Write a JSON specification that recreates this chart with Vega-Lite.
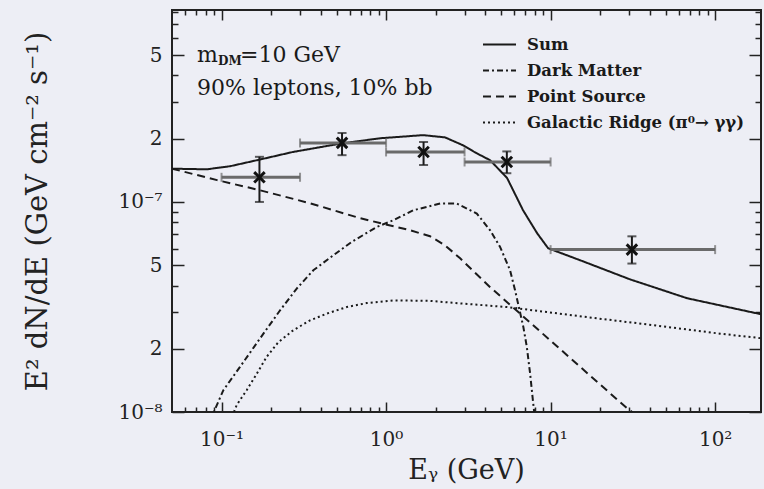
{
  "$schema": "https://vega.github.io/schema/vega-lite/v6.json",
  "width": 589,
  "height": 402,
  "autosize": "none",
  "padding": {"left": 172, "top": 10, "right": 3, "bottom": 77},
  "background": "#edeef5",
  "config": {
    "view": {"stroke": "#222222", "strokeWidth": 2},
    "axis": {
      "domain": false, "grid": false, "tickColor": "#222222", "tickWidth": 1.5,
      "labelFont": "DejaVu Serif", "labelFontSize": 20, "labelColor": "#222222",
      "titleFont": "DejaVu Serif", "titleFontSize": 27, "titleFontWeight": "normal", "titleColor": "#222222"
    }
  },
  "datasets": {
    "curves": [
      {"series": "Sum", "E": 0.05, "F": 1.44e-7},
      {"series": "Sum", "E": 0.0813, "F": 1.43e-7},
      {"series": "Sum", "E": 0.113, "F": 1.48e-7},
      {"series": "Sum", "E": 0.17, "F": 1.59e-7},
      {"series": "Sum", "E": 0.272, "F": 1.73e-7},
      {"series": "Sum", "E": 0.538, "F": 1.90e-7},
      {"series": "Sum", "E": 0.92, "F": 2.01e-7},
      {"series": "Sum", "E": 1.68, "F": 2.08e-7},
      {"series": "Sum", "E": 2.28, "F": 2.03e-7},
      {"series": "Sum", "E": 2.94, "F": 1.86e-7},
      {"series": "Sum", "E": 3.48, "F": 1.72e-7},
      {"series": "Sum", "E": 4.29, "F": 1.58e-7},
      {"series": "Sum", "E": 5.44, "F": 1.30e-7},
      {"series": "Sum", "E": 6.8, "F": 9.13e-8},
      {"series": "Sum", "E": 8.28, "F": 7.10e-8},
      {"series": "Sum", "E": 9.66, "F": 6.02e-8},
      {"series": "Sum", "E": 15.1, "F": 5.28e-8},
      {"series": "Sum", "E": 30.4, "F": 4.28e-8},
      {"series": "Sum", "E": 67.6, "F": 3.48e-8},
      {"series": "Sum", "E": 190, "F": 2.92e-8},
      {"series": "Dark Matter", "E": 0.0851, "F": 9.1e-9},
      {"series": "Dark Matter", "E": 0.1026, "F": 1.27e-8},
      {"series": "Dark Matter", "E": 0.1295, "F": 1.64e-8},
      {"series": "Dark Matter", "E": 0.1714, "F": 2.24e-8},
      {"series": "Dark Matter", "E": 0.227, "F": 3.05e-8},
      {"series": "Dark Matter", "E": 0.2865, "F": 3.87e-8},
      {"series": "Dark Matter", "E": 0.3614, "F": 4.73e-8},
      {"series": "Dark Matter", "E": 0.478, "F": 5.57e-8},
      {"series": "Dark Matter", "E": 0.618, "F": 6.45e-8},
      {"series": "Dark Matter", "E": 0.878, "F": 7.60e-8},
      {"series": "Dark Matter", "E": 1.107, "F": 8.18e-8},
      {"series": "Dark Matter", "E": 1.466, "F": 9.13e-8},
      {"series": "Dark Matter", "E": 2.13, "F": 9.83e-8},
      {"series": "Dark Matter", "E": 2.69, "F": 9.83e-8},
      {"series": "Dark Matter", "E": 3.56, "F": 8.81e-8},
      {"series": "Dark Matter", "E": 4.29, "F": 7.33e-8},
      {"series": "Dark Matter", "E": 4.93, "F": 6.11e-8},
      {"series": "Dark Matter", "E": 5.67, "F": 4.73e-8},
      {"series": "Dark Matter", "E": 6.08, "F": 3.80e-8},
      {"series": "Dark Matter", "E": 6.83, "F": 2.54e-8},
      {"series": "Dark Matter", "E": 7.17, "F": 2.04e-8},
      {"series": "Dark Matter", "E": 7.51, "F": 1.52e-8},
      {"series": "Dark Matter", "E": 7.69, "F": 1.27e-8},
      {"series": "Dark Matter", "E": 7.86, "F": 1.08e-8},
      {"series": "Dark Matter", "E": 8.0, "F": 9.6e-9},
      {"series": "Point Source", "E": 0.05, "F": 1.44e-7},
      {"series": "Point Source", "E": 0.094, "F": 1.27e-7},
      {"series": "Point Source", "E": 0.169, "F": 1.14e-7},
      {"series": "Point Source", "E": 0.345, "F": 9.86e-8},
      {"series": "Point Source", "E": 0.695, "F": 8.37e-8},
      {"series": "Point Source", "E": 1.40, "F": 7.33e-8},
      {"series": "Point Source", "E": 1.85, "F": 6.87e-8},
      {"series": "Point Source", "E": 2.28, "F": 6.22e-8},
      {"series": "Point Source", "E": 2.82, "F": 5.39e-8},
      {"series": "Point Source", "E": 4.29, "F": 3.93e-8},
      {"series": "Point Source", "E": 29.2, "F": 1.04e-8},
      {"series": "Point Source", "E": 40.3, "F": 8.65e-9},
      {"series": "Galactic Ridge (π⁰→ γγ)", "E": 0.116, "F": 9.5e-9},
      {"series": "Galactic Ridge (π⁰→ γγ)", "E": 0.1237, "F": 1.08e-8},
      {"series": "Galactic Ridge (π⁰→ γγ)", "E": 0.1422, "F": 1.27e-8},
      {"series": "Galactic Ridge (π⁰→ γγ)", "E": 0.1637, "F": 1.52e-8},
      {"series": "Galactic Ridge (π⁰→ γγ)", "E": 0.188, "F": 1.83e-8},
      {"series": "Galactic Ridge (π⁰→ γγ)", "E": 0.2215, "F": 2.15e-8},
      {"series": "Galactic Ridge (π⁰→ γγ)", "E": 0.273, "F": 2.45e-8},
      {"series": "Galactic Ridge (π⁰→ γγ)", "E": 0.345, "F": 2.73e-8},
      {"series": "Galactic Ridge (π⁰→ γγ)", "E": 0.436, "F": 2.94e-8},
      {"series": "Galactic Ridge (π⁰→ γγ)", "E": 0.577, "F": 3.16e-8},
      {"series": "Galactic Ridge (π⁰→ γγ)", "E": 0.763, "F": 3.30e-8},
      {"series": "Galactic Ridge (π⁰→ γγ)", "E": 1.107, "F": 3.40e-8},
      {"series": "Galactic Ridge (π⁰→ γγ)", "E": 1.85, "F": 3.38e-8},
      {"series": "Galactic Ridge (π⁰→ γγ)", "E": 2.95, "F": 3.28e-8},
      {"series": "Galactic Ridge (π⁰→ γγ)", "E": 5.42, "F": 3.16e-8},
      {"series": "Galactic Ridge (π⁰→ γγ)", "E": 9.48, "F": 2.99e-8},
      {"series": "Galactic Ridge (π⁰→ γγ)", "E": 16.6, "F": 2.83e-8},
      {"series": "Galactic Ridge (π⁰→ γγ)", "E": 42.2, "F": 2.59e-8},
      {"series": "Galactic Ridge (π⁰→ γγ)", "E": 107, "F": 2.36e-8},
      {"series": "Galactic Ridge (π⁰→ γγ)", "E": 196, "F": 2.24e-8}
    ],
    "points": [
      {"E": 0.17, "Elo": 0.1, "Ehi": 0.3, "F": 1.31e-7, "Flo": 1.0e-7, "Fhi": 1.64e-7},
      {"E": 0.54, "Elo": 0.3, "Ehi": 1.0, "F": 1.91e-7, "Flo": 1.67e-7, "Fhi": 2.13e-7},
      {"E": 1.69, "Elo": 1.0, "Ehi": 3.0, "F": 1.73e-7, "Flo": 1.50e-7, "Fhi": 1.93e-7},
      {"E": 5.42, "Elo": 3.0, "Ehi": 10, "F": 1.55e-7, "Flo": 1.37e-7, "Fhi": 1.74e-7},
      {"E": 31.2, "Elo": 10, "Ehi": 100, "F": 5.93e-8, "Flo": 5.09e-8, "Fhi": 6.86e-8}
    ],
    "notes": [
      {"E": 0.071, "F": 5.0e-7, "label": "m"},
      {"E": 0.071, "F": 5.0e-7, "label": "DM"},
      {"E": 0.071, "F": 5.0e-7, "label": "=10 GeV"},
      {"E": 0.071, "F": 3.48e-7, "label": "90% leptons, 10% bb"}
    ]
  },
  "resolve": {"axis": {"x": "independent", "y": "independent"}},
  "layer": [
    {
      "data": {"name": "curves"},
      "mark": {"type": "line", "clip": true, "color": "#1a1a1a", "strokeWidth": 2},
      "encoding": {
        "x": {"field": "E", "type": "quantitative",
          "scale": {"type": "log", "domain": [0.05, 190], "nice": false},
          "axis": {"orient": "bottom", "values": [0.1, 1, 10, 100], "tickSize": -10, "labelPadding": 27,
            "labelExpr": "datum.value < 0.5 ? '10⁻¹' : datum.value < 5 ? '10⁰' : datum.value < 50 ? '10¹' : '10²'",
            "title": "Eᵧ (GeV)", "titleX": 294, "titleY": 66, "titleBaseline": "alphabetic", "titleAlign": "center"}},
        "y": {"field": "F", "type": "quantitative",
          "scale": {"type": "log", "domain": [1e-8, 8.2e-7], "nice": false},
          "axis": {"orient": "left", "values": [1e-8, 2e-8, 5e-8, 1e-7, 2e-7, 5e-7], "tickSize": -12, "labelPadding": 22,
            "labelExpr": "datum.value < 1.5e-8 ? '10⁻⁸' : datum.value < 9e-8 ? format(datum.value*1e8,'d') : datum.value < 1.5e-7 ? '10⁻⁷' : format(datum.value*1e7,'d')",
            "title": "E² dN/dE (GeV cm⁻² s⁻¹)", "titleFontSize": 29, "titleX": -135, "titleY": 201, "titleAngle": -90, "titleBaseline": "middle", "titleAlign": "center"}},
        "strokeDash": {"field": "series", "type": "nominal",
          "scale": {"domain": ["Sum", "Dark Matter", "Point Source", "Galactic Ridge (π⁰→ γγ)"],
                    "range": [[1, 0], [6, 3, 2, 3], [8, 5], [2, 3]]},
          "legend": {"orient": "none", "legendX": 310, "legendY": 17, "title": null, "padding": 0,
            "symbolType": "stroke", "symbolSize": 1089, "symbolStrokeWidth": 2, "symbolStrokeColor": "#1a1a1a",
            "labelFont": "DejaVu Serif", "labelFontWeight": "bold", "labelFontSize": 16.5, "labelColor": "#1a1a1a",
            "labelLimit": 400, "labelOffset": 10, "rowPadding": -3.8}}
      }
    },
    {
      "data": {"name": "points"},
      "mark": {"type": "rule", "color": "#6a6a6a", "strokeWidth": 3},
      "encoding": {
        "x": {"field": "Elo", "type": "quantitative", "scale": {"type": "log", "domain": [0.05, 190], "nice": false},
          "axis": {"orient": "bottom", "values": [0.06, 0.07, 0.08, 0.09, 0.2, 0.3, 0.4, 0.5, 0.6, 0.7, 0.8, 0.9, 2, 3, 4, 5, 6, 7, 8, 9, 20, 30, 40, 50, 60, 70, 80, 90], "labels": false, "tickSize": -5, "title": null}},
        "x2": {"field": "Ehi"},
        "y": {"field": "F", "type": "quantitative", "scale": {"type": "log", "domain": [1e-8, 8.2e-7], "nice": false},
          "axis": {"orient": "left", "values": [3e-8, 4e-8, 6e-8, 7e-8, 8e-8, 9e-8, 3e-7, 4e-7, 6e-7, 7e-7, 8e-7], "labels": false, "tickSize": -6, "title": null}}
      }
    },
    {
      "data": {"name": "points"},
      "mark": {"type": "rule", "color": "#1a1a1a", "strokeWidth": 2},
      "encoding": {
        "x": {"field": "E", "type": "quantitative", "scale": {"type": "log", "domain": [0.05, 190], "nice": false},
          "axis": {"orient": "top", "values": [0.1, 1, 10, 100], "labels": false, "tickSize": -10, "title": null}},
        "y": {"field": "Flo", "type": "quantitative", "scale": {"type": "log", "domain": [1e-8, 8.2e-7], "nice": false},
          "axis": {"orient": "right", "values": [1e-8, 2e-8, 5e-8, 1e-7, 2e-7, 5e-7], "labels": false, "tickSize": -12, "title": null}},
        "y2": {"field": "Fhi"}
      }
    },
    {
      "data": {"name": "points"},
      "mark": {"type": "tick", "orient": "vertical", "color": "#6a6a6a", "size": 9, "thickness": 2},
      "encoding": {
        "x": {"field": "Elo", "type": "quantitative", "scale": {"type": "log", "domain": [0.05, 190], "nice": false},
          "axis": {"orient": "top", "values": [0.06, 0.07, 0.08, 0.09, 0.2, 0.3, 0.4, 0.5, 0.6, 0.7, 0.8, 0.9, 2, 3, 4, 5, 6, 7, 8, 9, 20, 30, 40, 50, 60, 70, 80, 90], "labels": false, "tickSize": -5, "title": null}},
        "y": {"field": "F", "type": "quantitative", "scale": {"type": "log", "domain": [1e-8, 8.2e-7], "nice": false},
          "axis": {"orient": "right", "values": [3e-8, 4e-8, 6e-8, 7e-8, 8e-8, 9e-8, 3e-7, 4e-7, 6e-7, 7e-7, 8e-7], "labels": false, "tickSize": -6, "title": null}}
      }
    },
    {
      "data": {"name": "points"},
      "mark": {"type": "tick", "orient": "vertical", "color": "#6a6a6a", "size": 9, "thickness": 2},
      "encoding": {
        "x": {"field": "Ehi", "type": "quantitative", "scale": {"type": "log", "domain": [0.05, 190], "nice": false}, "axis": null},
        "y": {"field": "F", "type": "quantitative", "scale": {"type": "log", "domain": [1e-8, 8.2e-7], "nice": false}, "axis": null}
      }
    },
    {
      "data": {"name": "points"},
      "mark": {"type": "tick", "orient": "horizontal", "color": "#1a1a1a", "size": 9, "thickness": 2},
      "encoding": {
        "x": {"field": "E", "type": "quantitative", "scale": {"type": "log", "domain": [0.05, 190], "nice": false}, "axis": null},
        "y": {"field": "Flo", "type": "quantitative", "scale": {"type": "log", "domain": [1e-8, 8.2e-7], "nice": false}, "axis": null}
      }
    },
    {
      "data": {"name": "points"},
      "mark": {"type": "tick", "orient": "horizontal", "color": "#1a1a1a", "size": 9, "thickness": 2},
      "encoding": {
        "x": {"field": "E", "type": "quantitative", "scale": {"type": "log", "domain": [0.05, 190], "nice": false}, "axis": null},
        "y": {"field": "Fhi", "type": "quantitative", "scale": {"type": "log", "domain": [1e-8, 8.2e-7], "nice": false}, "axis": null}
      }
    },
    {
      "data": {"name": "points"},
      "mark": {"type": "point", "shape": "M-1,-1L1,1M1,-1L-1,1", "filled": false, "size": 110, "strokeWidth": 3, "color": "#111111", "opacity": 1},
      "encoding": {
        "x": {"field": "E", "type": "quantitative", "scale": {"type": "log", "domain": [0.05, 190], "nice": false}, "axis": null},
        "y": {"field": "F", "type": "quantitative", "scale": {"type": "log", "domain": [1e-8, 8.2e-7], "nice": false}, "axis": null}
      }
    },
    {
      "data": {"name": "notes"},
      "transform": [{"filter": "datum.label == 'm' || datum.label == '90% leptons, 10% bb'"}],
      "mark": {"type": "text", "align": "left", "baseline": "middle", "font": "DejaVu Serif", "fontSize": 22, "color": "#1a1a1a"},
      "encoding": {
        "x": {"field": "E", "type": "quantitative", "scale": {"type": "log", "domain": [0.05, 190], "nice": false}, "axis": null},
        "y": {"field": "F", "type": "quantitative", "scale": {"type": "log", "domain": [1e-8, 8.2e-7], "nice": false}, "axis": null},
        "text": {"field": "label"}
      }
    },
    {
      "data": {"name": "notes"},
      "transform": [{"filter": "datum.label == 'DM'"}],
      "mark": {"type": "text", "align": "left", "baseline": "middle", "font": "DejaVu Serif", "fontSize": 12, "fontWeight": "bold", "color": "#1a1a1a", "dx": 21, "dy": 6},
      "encoding": {
        "x": {"field": "E", "type": "quantitative", "scale": {"type": "log", "domain": [0.05, 190], "nice": false}, "axis": null},
        "y": {"field": "F", "type": "quantitative", "scale": {"type": "log", "domain": [1e-8, 8.2e-7], "nice": false}, "axis": null},
        "text": {"field": "label"}
      }
    },
    {
      "data": {"name": "notes"},
      "transform": [{"filter": "datum.label == '=10 GeV'"}],
      "mark": {"type": "text", "align": "left", "baseline": "middle", "font": "DejaVu Serif", "fontSize": 22, "color": "#1a1a1a", "dx": 43},
      "encoding": {
        "x": {"field": "E", "type": "quantitative", "scale": {"type": "log", "domain": [0.05, 190], "nice": false}, "axis": null},
        "y": {"field": "F", "type": "quantitative", "scale": {"type": "log", "domain": [1e-8, 8.2e-7], "nice": false}, "axis": null},
        "text": {"field": "label"}
      }
    }
  ]
}
